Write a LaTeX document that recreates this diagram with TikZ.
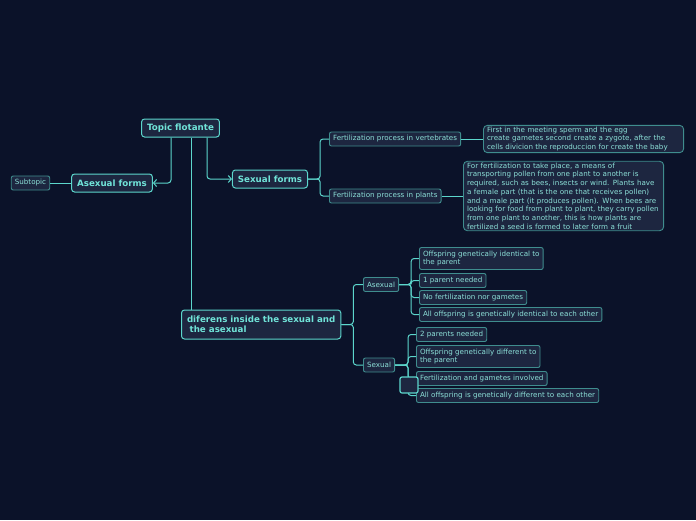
\documentclass[tikz,border=0pt]{standalone}
\usepackage{fontspec}
\setmainfont{DejaVu Sans}
\usepackage{xcolor}
\usepackage{tikz}
\usetikzlibrary{positioning, arrows.meta}
\definecolor{mapnavy}{RGB}{11,18,41}
\definecolor{boxfill}{RGB}{29,38,64}
\definecolor{mapcyan}{RGB}{92,214,204}
\definecolor{subedge}{RGB}{63,141,142}
\definecolor{maintext}{RGB}{112,227,216}
\definecolor{subtext}{RGB}{140,224,216}

\begin{document}
\begin{tikzpicture}[x=1pt,y=-1pt,
  topic/.style={draw=mapcyan, fill=boxfill, rounded corners=3pt, line width=1pt,
                text=maintext, font=\fontsize{8.7}{10.2}\selectfont\bfseries,
                inner xsep=5.5pt, inner ysep=2pt, minimum height=18pt, align=left},
  sub/.style={draw=subedge, fill=boxfill, rounded corners=2pt, line width=0.9pt,
              text=subtext, font=\fontsize{7.15}{8.7}\selectfont,
              inner xsep=3.6pt, inner ysep=1.5pt, minimum height=14pt, align=left},
  note/.style={sub, rounded corners=4pt, text width=193pt},
  link/.style={draw=mapcyan, line width=1pt, rounded corners=3pt},
  arr/.style={link, -{Straight Barb[length=3pt, width=7pt]}}]

  %% background
  \fill[mapnavy] (0,0) rectangle (696,520);

  %% main topics
  \node[topic] (topic) at (180.5,128) {Topic flotante};
  \node[topic] (asf) at (112,183) {Asexual forms};
  \node[sub] (subtopic) at (30.5,183) {Subtopic};
  \node[topic] (sxf) at (270,179) {Sexual forms};
  \node[topic, anchor=west, minimum height=29pt] (dif) at (181,324.5)
    {diferens inside the sexual and\\\hspace*{0.3em}the asexual};

  %% fertilization branch
  \node[sub, anchor=west] (fvert) at (329,139) {Fertilization process in vertebrates};
  \node[sub, anchor=west] (fplant) at (329,196) {Fertilization process in plants};
  \node[note, anchor=west] (nvert) at (483,139)
    {First in the meeting sperm and the egg\\
     create gametes second create a zygote, after the\\
     cells divicion the reproduccion for create the baby};
  \node[note, anchor=west] (nplant) at (463,196)
    {For fertilization to take place, a means of\\
     transporting pollen from one plant to another is\\
     required, such as bees, insects or wind. Plants have\\
     a female part (that is the one that receives pollen)\\
     and a male part (it produces pollen). When bees are\\
     looking for food from plant to plant, they carry pollen\\
     from one plant to another, this is how plants are\\
     fertilized a seed is formed to later form a fruit};

  %% differences branch
  \node[sub, anchor=west] (asx) at (363,284.5) {Asexual};
  \node[sub, anchor=west] (sx) at (363,365) {Sexual};

  \node[sub, anchor=west, minimum height=22pt] (a1) at (419,258.5)
    {Offspring genetically identical to\\the parent};
  \node[sub, anchor=west] (a2) at (419,280.5) {1 parent needed};
  \node[sub, anchor=west] (a3) at (419,297.5) {No fertilization nor gametes};
  \node[sub, anchor=west] (a4) at (419,314.5) {All offspring is genetically identical to each other};

  \node[sub, anchor=west] (s1) at (416,334.5) {2 parents needed};
  \node[sub, anchor=west, minimum height=22pt] (s2) at (416,356.5)
    {Offspring genetically different to\\the parent};
  \node[sub, anchor=west] (s3) at (416,378.5) {Fertilization and gametes involved};
  \node[sub, anchor=west] (s4) at (416,395.5) {All offspring is genetically different to each other};

  %% connectors
  \draw[arr] ([xshift=-9.5pt]topic.south) |- (asf.east);
  \draw[arr] ([xshift=26.5pt]topic.south) |- (sxf.west);
  \draw[link] ([xshift=10.5pt]topic.south) -- ([xshift=10.5pt]topic.south |- dif.north);
  \draw[link] (subtopic.east) -- (asf.west);

  \draw[link] (sxf.east) -- ++(12,0) |- (fvert.west);
  \draw[link] (sxf.east) -- ++(12,0) |- (fplant.west);
  \draw[link] (fvert.east) -- (nvert.west);
  \draw[link] (fplant.east) -- (nplant.west);

  \draw[link] (dif.east) -- ++(12,0) |- (asx.west);
  \draw[link] (dif.east) -- ++(12,0) |- (sx.west);
  \foreach \kid in {a1,a2,a3,a4}
    \draw[link] (asx.east) -- ++(12,0) |- (\kid.west);
  \foreach \kid in {s1,s2,s3,s4}
    \draw[link] (sx.east) -- ++(13,0) |- (\kid.west);

  %% empty box over the sexual stem
  \node[draw=mapcyan, fill=boxfill, rounded corners=2pt, line width=1.2pt,
        minimum width=18pt, minimum height=16pt, inner sep=0pt] (blank) at (409,385) {};
\end{tikzpicture}
\end{document}
